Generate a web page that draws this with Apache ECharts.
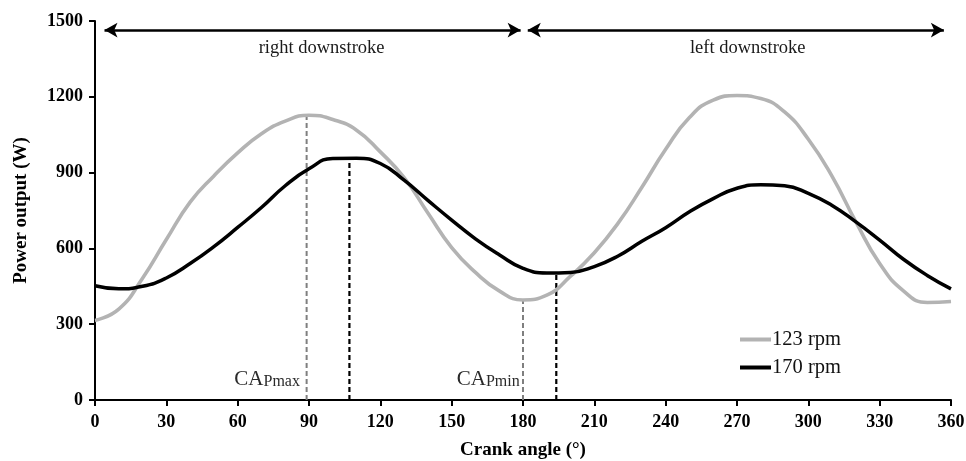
<!DOCTYPE html>
<html>
<head>
<meta charset="utf-8">
<script src="https://cdn.jsdelivr.net/npm/echarts@6/dist/echarts.min.js"></script>
<style>
  html, body { margin: 0; padding: 0; background: #fff; }
  #chart { width: 966px; height: 461px; }
</style>
</head>
<body>
<div id="chart"></div>
<script>
// Crank angle samples (degrees)
const angles = [0, 10, 20, 30, 40, 50, 60, 70, 80, 90, 100, 110, 120, 130, 140, 150, 160, 170, 180,
  190, 200, 210, 220, 230, 240, 250, 260, 270, 280, 290, 300, 310, 320, 330, 340, 350, 360];

// Power output (W) over one crank revolution
const rpm123 = [315, 360, 482, 635, 783, 887, 978, 1054, 1104, 1127, 1110, 1068, 982, 880, 740, 603, 505, 432, 396,
  415, 490, 583, 700, 842, 992, 1118, 1187, 1205, 1193, 1140, 1032, 885, 705, 540, 432, 386, 390];
const rpm170 = [452, 440, 450, 483, 540, 607, 683, 762, 848, 915, 956, 957, 936, 870, 790, 712, 638, 575, 521,
  503, 505, 528, 570, 628, 682, 745, 797, 838, 852, 848, 818, 770, 705, 633, 557, 493, 440];

const seriesNames = ['123 rpm', '170 rpm'];

// Crank angles of peak (CAPmax) and minimum (CAPmin) power, with the power reached there
const capAngles123 = [89, 180];
const capPower123 = [1127, 396];
const capAngles170 = [107, 194];
const capPower170 = [957, 502];

// Downstroke phases
const strokeSpans = [[4, 179], [182, 357]];
const strokeNames = ['right downstroke', 'left downstroke'];
const strokeLabelAngles = [95.3, 274.5];
const strokeArrowLevel = 1464;
const strokeLabelLevel = 1392;

// CAP labels: [angle, power, subscript]
const capLabels = [[86.2, 84, 'Pmax'], [178.6, 84, 'Pmin']];

const xTicks = { min: 0, max: 360, step: 30 };
const yTicks = { min: 0, max: 1500, step: 300 };

const serif = '"Liberation Serif", "Times New Roman", serif';
const GRAY = '#b3b3b3';
const BLACK = '#000';

const toPairs = (xs, ys) => xs.map((x, i) => [x, ys[i]]);

function dropLine(angle, power, color, width) {
  return {
    type: 'line',
    data: [[angle, 0], [angle, power]],
    symbol: 'none',
    silent: true,
    z: 1,
    lineStyle: { color: color, width: width, type: [5, 3] }
  };
}

const series = [
  {
    name: seriesNames[0],
    type: 'line',
    data: toPairs(angles, rpm123),
    smooth: 0.5,
    symbol: 'none',
    z: 3,
    lineStyle: { color: GRAY, width: 3.6 },
    itemStyle: { color: GRAY }
  },
  {
    name: seriesNames[1],
    type: 'line',
    data: toPairs(angles, rpm170),
    smooth: 0.5,
    symbol: 'none',
    z: 4,
    lineStyle: { color: BLACK, width: 3.5 },
    itemStyle: { color: BLACK }
  },
  dropLine(capAngles123[0], capPower123[0], '#7f7f7f', 2),
  dropLine(capAngles123[1], capPower123[1], '#7f7f7f', 2),
  dropLine(capAngles170[0], capPower170[0], BLACK, 2.2),
  dropLine(capAngles170[1], capPower170[1], BLACK, 2.2),
  // Downstroke arrows
  {
    type: 'line',
    data: [],
    silent: true,
    markLine: {
      silent: true,
      animation: false,
      symbol: ['arrow', 'arrow'],
      symbolSize: [11, 13],
      label: { show: false },
      lineStyle: { color: BLACK, width: 2.5, type: 'solid' },
      data: strokeSpans.map(s => [
        { coord: [s[0], strokeArrowLevel] },
        { coord: [s[1], strokeArrowLevel] }
      ])
    }
  },
  // Downstroke captions
  {
    type: 'scatter',
    symbolSize: 0,
    silent: true,
    itemStyle: { opacity: 1 },
    data: strokeNames.map((n, i) => ({ value: [strokeLabelAngles[i], strokeLabelLevel], name: n })),
    label: {
      show: true,
      position: 'inside',
      formatter: '{b}',
      color: '#1a1a1a',
      opacity: 1,
      fontFamily: serif,
      fontSize: 18.5
    }
  },
  // CAP captions
  {
    type: 'scatter',
    symbolSize: 0,
    silent: true,
    itemStyle: { opacity: 1 },
    data: capLabels.map(c => ({ value: [c[0], c[1]], name: c[2] })),
    label: {
      show: true,
      position: 'left',
      distance: 0,
      opacity: 1,
      formatter: '{a|CA}{b|{b}}',
      rich: {
        a: { fontFamily: serif, fontSize: 21, color: '#2a2a2a', lineHeight: 22, verticalAlign: 'bottom' },
        b: { fontFamily: serif, fontSize: 16, color: '#2a2a2a', lineHeight: 22, verticalAlign: 'bottom', padding: [3, 0, 0, 0] }
      }
    }
  }
];

const chart = echarts.init(document.getElementById('chart'), null, { renderer: 'canvas' });
chart.setOption({
  animation: false,
  backgroundColor: '#fff',
  grid: { left: 95, right: 15, top: 21, bottom: 61, containLabel: false, outerBoundsMode: 'none' },
  legend: {
    data: seriesNames,
    orient: 'vertical',
    left: 735,
    top: 324,
    icon: 'rect',
    itemWidth: 31,
    itemHeight: 4,
    itemGap: 7,
    textStyle: { fontFamily: serif, fontSize: 20.5, color: '#111', padding: [0, 0, 0, -4] }
  },
  xAxis: {
    type: 'value',
    min: xTicks.min,
    max: xTicks.max,
    interval: xTicks.step,
    name: 'Crank angle (°)',
    nameLocation: 'middle',
    nameGap: 41,
    nameTextStyle: { fontFamily: serif, fontSize: 19, fontWeight: 'bold', color: '#000' },
    axisLine: { show: true, lineStyle: { color: '#000', width: 2 } },
    axisTick: { show: true, inside: false, length: 6, lineStyle: { color: '#000', width: 2 } },
    axisLabel: { fontFamily: serif, fontSize: 18, fontWeight: 'bold', color: '#000', margin: 13,
      formatter: v => String(v) },
    splitLine: { show: false }
  },
  yAxis: {
    type: 'value',
    min: yTicks.min,
    max: yTicks.max,
    interval: yTicks.step,
    name: 'Power output (W)',
    nameLocation: 'middle',
    nameGap: 64,
    nameTextStyle: { fontFamily: serif, fontSize: 19, fontWeight: 'bold', color: '#000' },
    axisLine: { show: true, lineStyle: { color: '#000', width: 2 } },
    axisTick: { show: true, inside: false, length: 6, lineStyle: { color: '#000', width: 2 } },
    axisLabel: { fontFamily: serif, fontSize: 18, fontWeight: 'bold', color: '#000', margin: 12,
      formatter: v => String(v) },
    splitLine: { show: false }
  },
  series: series
});
</script>
</body>
</html>
